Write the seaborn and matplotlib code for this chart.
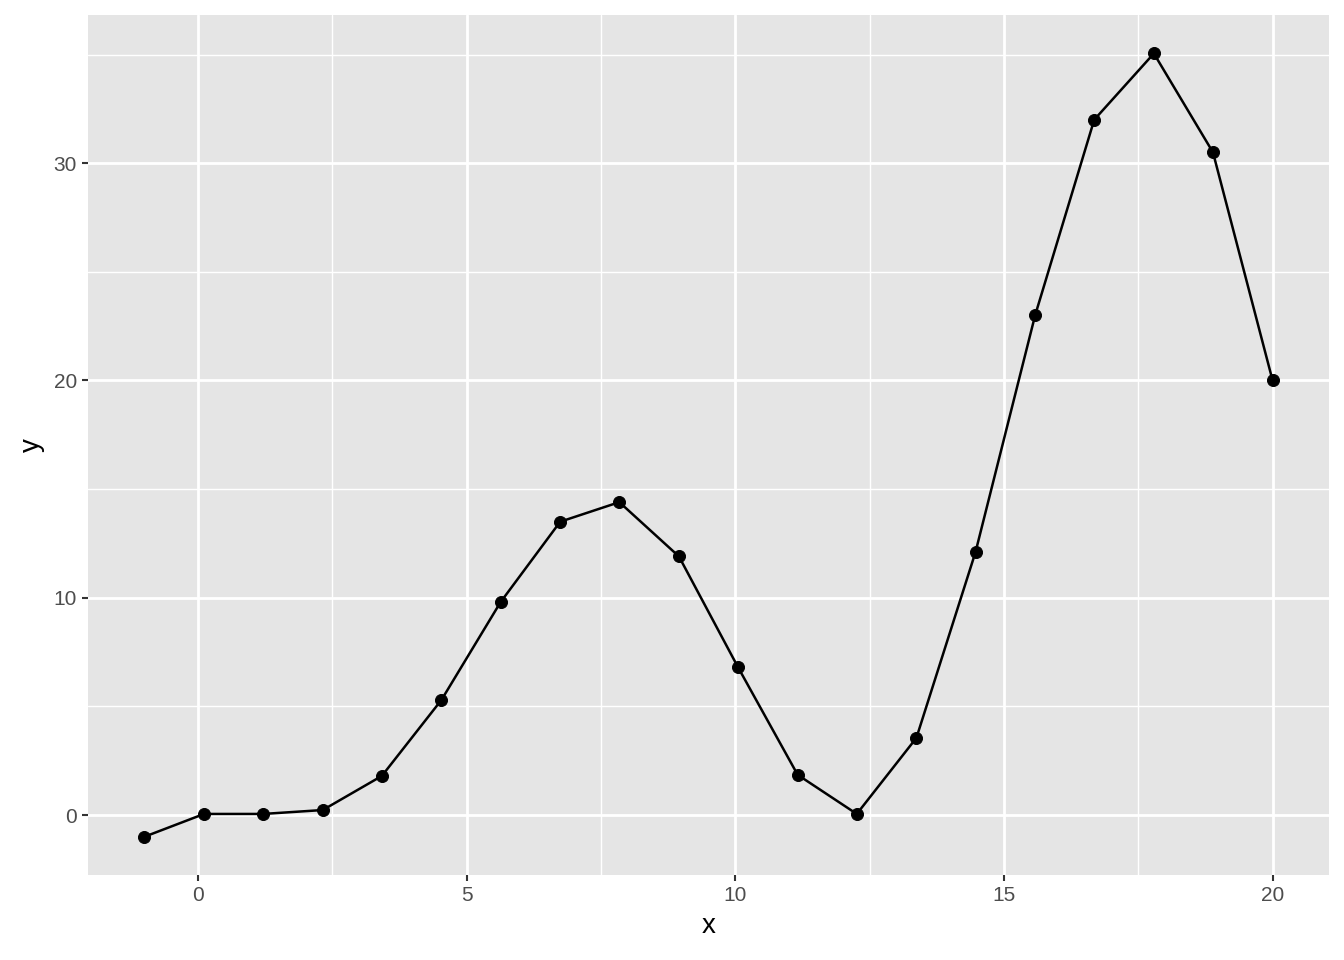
import matplotlib
matplotlib.use("Agg")
import matplotlib.pyplot as plt
import seaborn as sns
import pandas as pd
from matplotlib.ticker import MultipleLocator

x_vals = [-1.0, 0.11, 1.21, 2.32, 3.42, 4.53, 5.63, 6.74, 7.84, 8.95,
          10.05, 11.16, 12.26, 13.37, 14.47, 15.58, 16.68, 17.79, 18.89, 20.0]
y_vals = [-1.0, 0.05, 0.05, 0.23, 1.8, 5.3, 9.8, 13.5, 14.4, 11.9,
          6.8, 1.85, 0.05, 3.55, 12.1, 23.0, 32.0, 35.05, 30.5, 20.0]

df = pd.DataFrame({"x": x_vals, "y": y_vals})

sns.set_theme(style="darkgrid", rc={
    "axes.facecolor": "#E5E5E5",
    "grid.color": "white",
})
plt.rcParams["font.family"] = ["Liberation Sans", "DejaVu Sans"]

fig = plt.figure(figsize=(13.44, 9.6), dpi=100)
ax = fig.add_axes([88 / 1344, 1 - 875 / 960, (1329 - 88) / 1344, (875 - 15) / 960])

sns.lineplot(data=df, x="x", y="y", color="black", linewidth=1.8, ax=ax, zorder=3)
sns.scatterplot(data=df, x="x", y="y", color="black", s=75, edgecolor=None, ax=ax, zorder=4)

ax.set_xlim(-2.05, 21.05)
ax.set_ylim(-2.76, 36.82)
ax.xaxis.set_major_locator(MultipleLocator(5))
ax.yaxis.set_major_locator(MultipleLocator(10))
ax.xaxis.set_minor_locator(MultipleLocator(2.5))
ax.yaxis.set_minor_locator(MultipleLocator(5))
ax.grid(which="major", color="white", linewidth=2.0)
ax.grid(which="minor", color="white", linewidth=1.0)
ax.set_axisbelow(True)
for s in ax.spines.values():
    s.set_visible(False)

ax.tick_params(axis="both", which="major", labelsize=15, labelcolor="#4D4D4D",
               length=4, width=1.5, color="#333333", pad=4, bottom=True, left=True)
ax.tick_params(axis="both", which="minor", length=0)
ax.set_xlabel("x", fontsize=20, color="black", labelpad=6)
ax.set_ylabel("y", fontsize=20, color="black", labelpad=6)

fig.savefig("out.png", dpi=100)
